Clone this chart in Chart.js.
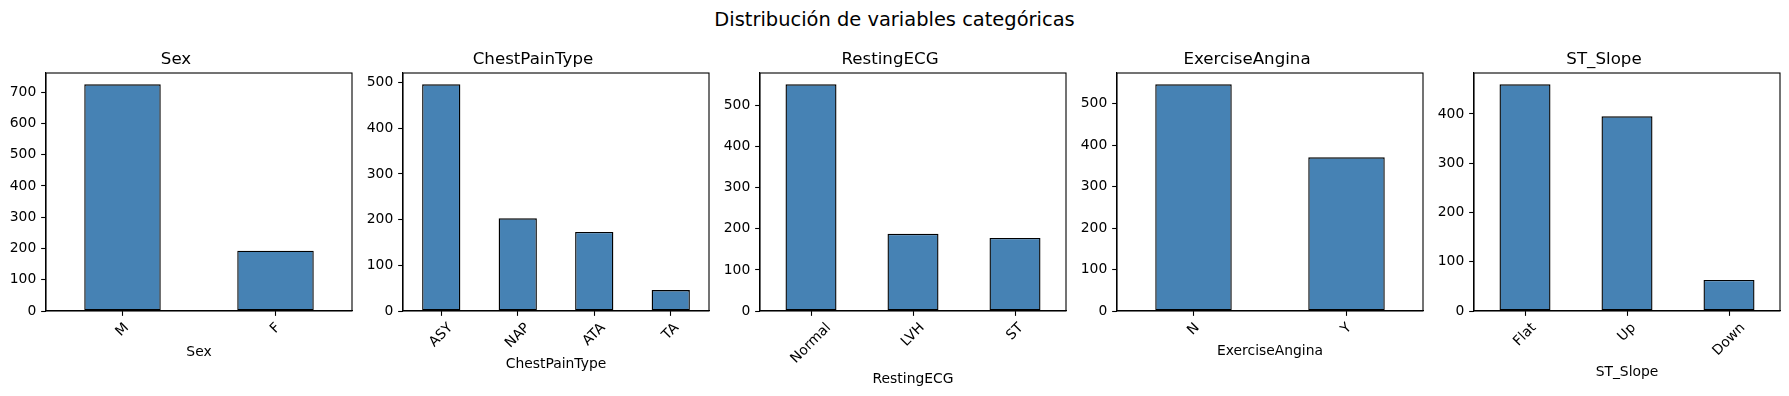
<!DOCTYPE html>
<html>
<head>
<meta charset="utf-8">
<script src="https://cdn.jsdelivr.net/npm/chart.js@4"></script>
<style>
    body { margin: 0; background: #fff; }
    #wrap { position: relative; width: 1789px; height: 396px; overflow: hidden; }
    #suptitle {
        position: absolute; left: 0; top: 0; width: 1789px; height: 40px;
        line-height: 40px; text-align: center;
        font-family: 'DejaVu Sans', sans-serif; font-size: 19.44px; color: #000;
    }
    canvas { position: absolute; top: 50px; }
</style>
</head>
<body>
<div id="wrap">
    <div id="suptitle">Distribución de variables categóricas</div>
</div>
<script>
// counts per category
const sexLabels = ['M', 'F'];
const sexCounts = [725, 193];

const chestPainLabels = ['ASY', 'NAP', 'ATA', 'TA'];
const chestPainCounts = [496, 203, 173, 46];

const restingEcgLabels = ['Normal', 'LVH', 'ST'];
const restingEcgCounts = [552, 188, 178];

const anginaLabels = ['N', 'Y'];
const anginaCounts = [547, 371];

const slopeLabels = ['Flat', 'Up', 'Down'];
const slopeCounts = [460, 395, 63];

const panelTitles = ['Sex', 'ChestPainType', 'RestingECG', 'ExerciseAngina', 'ST_Slope'];

// y tick values shown on each panel
const sexTicks = [0, 100, 200, 300, 400, 500, 600, 700];
const chestPainTicks = [0, 100, 200, 300, 400, 500];
const restingEcgTicks = [0, 100, 200, 300, 400, 500];
const anginaTicks = [0, 100, 200, 300, 400, 500];
const slopeTicks = [0, 100, 200, 300, 400];

const panels = [
    { title: panelTitles[0], labels: sexLabels, values: sexCounts, ticks: sexTicks },
    { title: panelTitles[1], labels: chestPainLabels, values: chestPainCounts, ticks: chestPainTicks },
    { title: panelTitles[2], labels: restingEcgLabels, values: restingEcgCounts, ticks: restingEcgTicks },
    { title: panelTitles[3], labels: anginaLabels, values: anginaCounts, ticks: anginaTicks },
    { title: panelTitles[4], labels: slopeLabels, values: slopeCounts, ticks: slopeTicks }
];

Chart.defaults.font.family = "'DejaVu Sans', sans-serif";
Chart.defaults.color = '#000';

const FONT = "'DejaVu Sans', sans-serif";
const TICK_PX = 13.89;
const CANVAS_W = 354, CANVAS_H = 346;
const AXIS_W = 46, AXIS_H = 85;
const PLOT_BOTTOM = CANVAS_H - AXIS_H;
const TICK_LEN = 4.86;

const measurer = document.createElement('canvas').getContext('2d');
measurer.font = `${TICK_PX}px ${FONT}`;

// height of a 45 degree rotated label's bounding box
const rotatedHeight = (text) => (measurer.measureText(text).width + 14) * Math.SQRT1_2;

// matplotlib style: four spines and rotated labels centred under the ticks
const mplLook = {
    id: 'mplLook',
    afterDraw(chart) {
        const { ctx, chartArea: a } = chart;
        const xScale = chart.scales.x;
        ctx.save();
        ctx.strokeStyle = '#000';
        ctx.lineWidth = 1.1;
        ctx.strokeRect(a.left, a.top, a.right - a.left, a.bottom - a.top);

        ctx.font = `${TICK_PX}px ${FONT}`;
        ctx.fillStyle = '#000';
        ctx.textAlign = 'center';
        ctx.textBaseline = 'middle';
        chart.data.labels.forEach((label, i) => {
            const px = xScale.getPixelForTick(i);
            const bh = rotatedHeight(label);
            ctx.save();
            ctx.translate(px, a.bottom + TICK_LEN * 2 + bh / 2);
            ctx.rotate(-Math.PI / 4);
            ctx.fillText(label, 0, 0);
            ctx.restore();
        });
        ctx.restore();
    }
};

const wrap = document.getElementById('wrap');

panels.forEach((p, idx) => {
    const canvas = document.createElement('canvas');
    canvas.width = CANVAS_W;
    canvas.height = CANVAS_H;
    canvas.style.left = (idx * 357) + 'px';
    wrap.appendChild(canvas);

    const tallest = Math.max(...p.labels.map(rotatedHeight));
    const labelCenter = PLOT_BOTTOM + TICK_LEN * 2 + tallest + 5.6 + 8;
    const titlePad = CANVAS_H - TICK_PX * 1.2 / 2 - labelCenter;

    new Chart(canvas.getContext('2d'), {
        type: 'bar',
        data: {
            labels: p.labels,
            datasets: [{
                data: p.values,
                backgroundColor: '#4682B4',
                borderColor: '#000',
                borderWidth: 1.4,
                borderSkipped: false,
                barPercentage: 0.5,
                categoryPercentage: 1
            }]
        },
        options: {
            responsive: false,
            animation: false,
            devicePixelRatio: 1,
            layout: { padding: { left: 0, right: 2, top: 0, bottom: 0 } },
            plugins: {
                legend: { display: false },
                tooltip: { enabled: false },
                title: {
                    display: true,
                    text: p.title,
                    color: '#000',
                    font: { size: 16.67, weight: 'normal' },
                    padding: { top: 0, bottom: 3 }
                }
            },
            scales: {
                x: {
                    offset: true,
                    grid: {
                        display: true,
                        offset: false,
                        drawOnChartArea: false,
                        drawTicks: true,
                        tickLength: TICK_LEN,
                        tickColor: '#000',
                        tickWidth: 1.1
                    },
                    border: { display: true, color: '#000', width: 1.1 },
                    ticks: { display: false },
                    title: {
                        display: true,
                        text: p.title,
                        color: '#000',
                        font: { size: TICK_PX },
                        padding: { top: 0, bottom: titlePad }
                    },
                    afterFit: (scale) => {
                        scale.height = AXIS_H;
                        scale.paddingLeft = 0;
                        scale.paddingRight = 0;
                    }
                },
                y: {
                    min: 0,
                    max: Math.max(...p.values) * 1.05,
                    grid: {
                        display: true,
                        drawOnChartArea: false,
                        drawTicks: true,
                        tickLength: TICK_LEN,
                        tickColor: '#000',
                        tickWidth: 1.1
                    },
                    border: { display: true, color: '#000', width: 1.1 },
                    ticks: {
                        padding: TICK_LEN,
                        color: '#000',
                        font: { size: TICK_PX }
                    },
                    afterBuildTicks: (scale) => {
                        scale.ticks = p.ticks.map(v => ({ value: v }));
                    },
                    afterFit: (scale) => {
                        scale.width = AXIS_W;
                    }
                }
            }
        },
        plugins: [mplLook]
    });
});
</script>
</body>
</html>
